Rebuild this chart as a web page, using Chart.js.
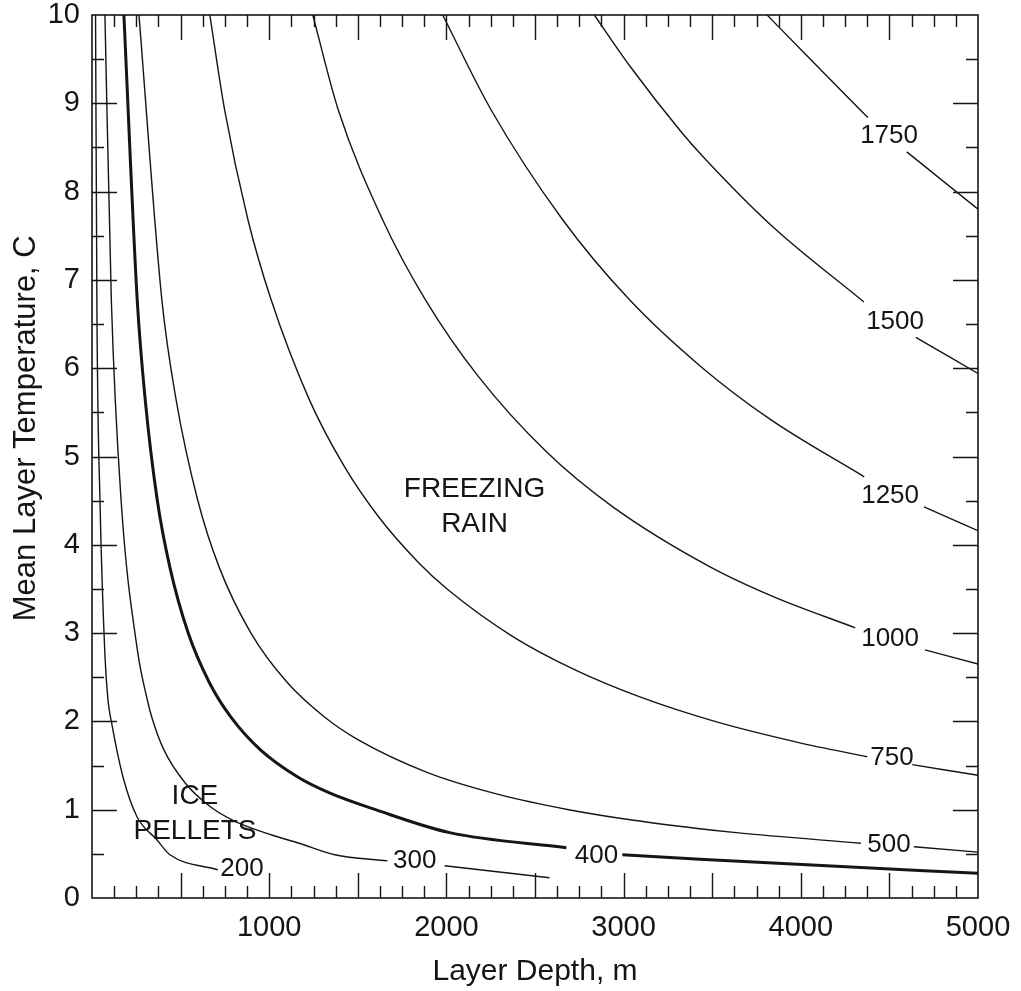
<!DOCTYPE html>
<html><head><meta charset="utf-8">
<script src="https://cdn.jsdelivr.net/npm/chart.js@4.4.1/dist/chart.umd.min.js"></script>
<style>html,body{margin:0;padding:0;background:#fff;}canvas{display:block;}</style>
</head><body>
<canvas id="c" width="1021" height="991" style="width:1021px;height:991px"></canvas>
<script>
// ---- data (layer depth in m, mean layer temperature in C) ----
const depth200 = [20, 28, 45, 73, 90, 111, 175, 254, 366, 440, 710];
const temp200  = [10, 6.6, 4.5, 2.75, 2.245, 1.98, 1.37, 0.92, 0.66, 0.49, 0.32];

const depth300 = [73, 109, 164, 256, 312, 337, 405, 527, 670, 795, 973, 1169, 1370, 1667, 1820, 1990, 2582];
const temp300  = [10, 6.78, 4.51, 2.81, 2.245, 2.05, 1.68, 1.30, 1.03, 0.88, 0.74, 0.62, 0.49, 0.42, null, 0.365, 0.23];

const depth400 = [180, 255, 300, 368, 439, 543, 662, 783, 949, 1161, 1340, 1600, 2018, 2677, 2847, 2993, 3430, 4090, 5000];
const temp400  = [10, 6.78, 5.65, 4.51, 3.75, 3.0, 2.44, 2.05, 1.68, 1.37, 1.19, 1.0, 0.74, 0.57, null, 0.49, 0.44, 0.37, 0.28];

const depth500 = [265, 394, 474, 596, 717, 897, 1102, 1312, 1503, 1894, 2299, 2690, 3057, 3405, 3635, 4339, 4498, 4638, 5000];
const temp500  = [10, 6.78, 5.65, 4.51, 3.75, 3.0, 2.44, 2.05, 1.79, 1.42, 1.17, 1.0, 0.88, 0.79, 0.74, 0.62, null, 0.58, 0.52];

const depth750 = [665, 748, 879, 1010, 1225, 1423, 1616, 1842, 2009, 2375, 2729, 3088, 3515, 3989, 4375, 4515, 4629, 5000];
const temp750  = [10, 8.93, 7.69, 6.78, 5.65, 4.89, 4.32, 3.80, 3.49, 2.96, 2.58, 2.28, 2.0, 1.76, 1.60, null, 1.51, 1.39];

const depth1000 = [1246, 1389, 1638, 1880, 2179, 2566, 2939, 3488, 3848, 4307, 4504, 4701, 5000];
const temp1000  = [10, 8.93, 7.69, 6.78, 5.91, 5.05, 4.43, 3.75, 3.41, 3.06, null, 2.81, 2.65];

const depth1250 = [1979, 2251, 2653, 3031, 3435, 3828, 4358, 4504, 4695, 5000];
const temp1250  = [10, 8.93, 7.69, 6.78, 6.02, 5.42, 4.77, null, 4.43, 4.16];

const depth1500 = [2835, 3036, 3328, 3446, 3837, 4356, 4532, 4649, 5000];
const temp1500  = [10, 9.42, 8.67, 8.40, 7.61, 6.75, null, 6.35, 5.94];

const depth1750 = [3810, 4014, 4378, 4498, 4598, 5000];
const temp1750  = [10, 9.58, 8.84, null, 8.45, 7.80];

const contourNames = ['200', '300', '400', '500', '750', '1000', '1250', '1500', '1750'];
const labelDepth   = [846, 1821, 2847, 4498, 4515, 4504, 4504, 4532, 4498];
const labelTemp    = [0.33, 0.42, 0.48, 0.60, 1.59, 2.93, 4.55, 6.53, 8.63];

const regionText  = ['FREEZING', 'RAIN', 'ICE', 'PELLETS'];
const regionDepth = [2159, 2159, 581, 581];
const regionTemp  = [4.63, 4.23, 1.15, 0.76];

const xTickValues = [1000, 2000, 3000, 4000, 5000];
const xTitle = 'Layer Depth, m';
const yTitle = 'Mean Layer Temperature, C';

// ---- build datasets ----
const depths = [depth200, depth300, depth400, depth500, depth750, depth1000, depth1250, depth1500, depth1750];
const temps  = [temp200, temp300, temp400, temp500, temp750, temp1000, temp1250, temp1500, temp1750];
const INK = '#151515';
const FONT = '"Liberation Sans", Arial, Helvetica, sans-serif';

const datasets = contourNames.map((name, i) => ({
  label: name,
  data: depths[i].map((d, j) => ({x: d, y: temps[i][j]})),
  borderColor: INK,
  borderWidth: name === '400' ? 3 : 1.4,
  pointRadius: 0,
  showLine: true,
  fill: false,
  spanGaps: false,
  cubicInterpolationMode: 'monotone'
}));

const framePlugin = {
  id: 'frame',
  afterDatasetsDraw(chart) {
    const {ctx, chartArea: a, scales: {x, y}} = chart;
    ctx.save();
    ctx.fillStyle = INK;
    ctx.textAlign = 'center';
    ctx.textBaseline = 'middle';
    ctx.font = '26px ' + FONT;
    contourNames.forEach((t, i) => {
      ctx.fillText(t, x.getPixelForValue(labelDepth[i]), y.getPixelForValue(labelTemp[i]));
    });
    ctx.font = '28px ' + FONT;
    regionText.forEach((t, i) => {
      ctx.fillText(t, x.getPixelForValue(regionDepth[i]), y.getPixelForValue(regionTemp[i]));
    });
    // y axis title (placed slightly above the axis centre, as in the original)
    ctx.save();
    ctx.translate(26, y.getPixelForValue(5.32));
    ctx.rotate(-Math.PI / 2);
    ctx.font = '31px ' + FONT;
    ctx.fillText(yTitle, 0, 0);
    ctx.restore();
    // frame
    ctx.strokeStyle = INK;
    ctx.lineWidth = 1.6;
    ctx.strokeRect(a.left, a.top, a.right - a.left, a.bottom - a.top);
    // inward tick marks
    ctx.lineWidth = 1.4;
    ctx.beginPath();
    for (let v = 125; v < 5000; v += 125) {
      const px = Math.round(x.getPixelForValue(v)) + 0.5;
      const len = v % 500 === 0 ? 25 : 12;
      ctx.moveTo(px, a.bottom); ctx.lineTo(px, a.bottom - len);
      ctx.moveTo(px, a.top); ctx.lineTo(px, a.top + len);
    }
    for (let k = 1; k < 20; k++) {
      const py = Math.round(y.getPixelForValue(k / 2)) + 0.5;
      const len = k % 2 === 0 ? 25 : 12;
      ctx.moveTo(a.left, py); ctx.lineTo(a.left + len, py);
      ctx.moveTo(a.right, py); ctx.lineTo(a.right - len, py);
    }
    ctx.stroke();
    ctx.restore();
  }
};

function noOverflow(s) {
  s.paddingLeft = 0; s.paddingRight = 0; s.paddingTop = 0; s.paddingBottom = 0;
}

new Chart(document.getElementById('c'), {
  type: 'scatter',
  data: {datasets},
  options: {
    responsive: false,
    animation: false,
    devicePixelRatio: 1,
    layout: {padding: {top: 15, right: 43, left: 0, bottom: 0}},
    plugins: {legend: {display: false}, tooltip: {enabled: false}},
    scales: {
      x: {
        type: 'linear', min: 0, max: 5000,
        afterFit: s => { s.height = 93; noOverflow(s); },
        afterBuildTicks: s => { s.ticks = xTickValues.map(v => ({value: v})); },
        ticks: {color: INK, font: {size: 29, family: FONT}, padding: 13, maxRotation: 0, autoSkip: false,
                callback: v => String(v)},
        grid: {display: false, drawTicks: false},
        border: {display: false},
        title: {display: true, text: xTitle, color: INK, font: {size: 30, family: FONT}, padding: {top: 0, bottom: 1}}
      },
      y: {
        type: 'linear', min: 0, max: 10,
        afterFit: s => { s.width = 92; noOverflow(s); },
        ticks: {stepSize: 1, color: INK, font: {size: 29, family: FONT}, padding: 12, autoSkip: false},
        grid: {display: false, drawTicks: false},
        border: {display: false},
        title: {display: false}
      }
    }
  },
  plugins: [framePlugin]
});
</script>
</body></html>
